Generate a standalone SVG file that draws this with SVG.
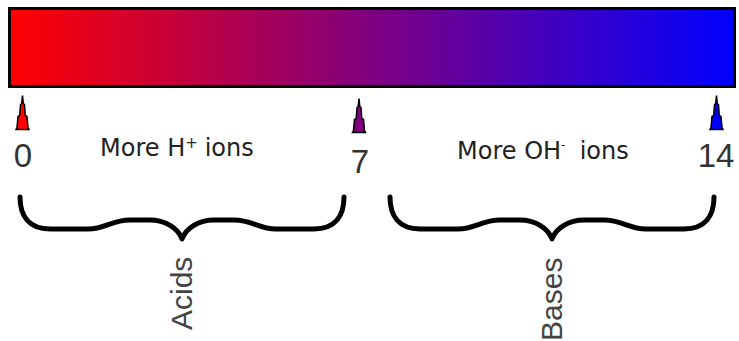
<svg xmlns="http://www.w3.org/2000/svg" width="739" height="341" viewBox="0 0 739 341">
<style>
.lbl{font-family:"DejaVu Sans",sans-serif;font-size:24px;fill:#222}
.num{font-family:"Liberation Sans",Arial,sans-serif;font-size:33px;fill:#333;text-anchor:middle}
.rot{font-family:"Liberation Sans",Arial,sans-serif;font-size:30px;fill:#444}
.brace{fill:none;stroke:#000;stroke-width:5;stroke-linejoin:round;stroke-linecap:round}
.mk{stroke:#000;stroke-width:1.5;stroke-linejoin:miter}
</style>
<defs>
<linearGradient id="ph" x1="8" y1="0" x2="736" y2="0" gradientUnits="userSpaceOnUse">
<stop offset="0" stop-color="#ff0000"/>
<stop offset="0.5" stop-color="#800080"/>
<stop offset="1" stop-color="#0000ff"/>
</linearGradient>
<path id="marker" d="M0,0 L0.8,8 L2,9 L2.8,20 L4.5,21 L5.5,32 L6.5,34 L-6.5,34 L-5.5,32 L-4.5,21 L-2.8,20 L-2,9 L-0.8,8 Z"/>
</defs>
<rect width="739" height="341" fill="#fff"/>
<g id="scale-bar">
<rect x="9.5" y="8.5" width="725" height="78" fill="url(#ph)" stroke="#000" stroke-width="3"/>
</g>
<g id="mark-0">
<use href="#marker" x="22.5" y="95.5" fill="#ff0000" class="mk"/>
<text class="num" x="23" y="167">0</text>
</g>
<g id="mark-7">
<use href="#marker" x="359" y="98.5" fill="#800080" class="mk"/>
<text class="num" x="360" y="173">7</text>
</g>
<g id="mark-14">
<use href="#marker" x="716.5" y="95.5" fill="#0000ff" class="mk"/>
<text class="num" x="716" y="167">14</text>
</g>
<g id="label-h">
<text class="lbl" x="100" y="156">More H<tspan dy="-8" font-size="15">+</tspan><tspan dy="8" x="197"> ions</tspan></text>
</g>
<g id="label-oh">
<text class="lbl" x="457" y="159">More OH<tspan dy="-10" font-size="12">-</tspan><tspan dy="10" x="572"> ions</tspan></text>
</g>
<g id="acids">
<path class="brace" d="M20,197 C20,215 28,229 50,229 L88,229 C105,229 112,220 130,220 L150,220 C165,220 178,228 182,239 C186,228 199,220 214,220 L234,220 C252,220 259,229 276,229 L314,229 C336,229 344,215 344,197"/>
<text class="rot" transform="translate(192,330) rotate(-90)">Acids</text>
</g>
<g id="bases">
<path class="brace" transform="translate(370,0)" d="M20,197 C20,215 28,229 50,229 L88,229 C105,229 112,220 130,220 L150,220 C165,220 178,228 182,239 C186,228 199,220 214,220 L234,220 C252,220 259,229 276,229 L314,229 C336,229 344,215 344,197"/>
<text class="rot" transform="translate(562,341) rotate(-90)">Bases</text>
</g>
</svg>
